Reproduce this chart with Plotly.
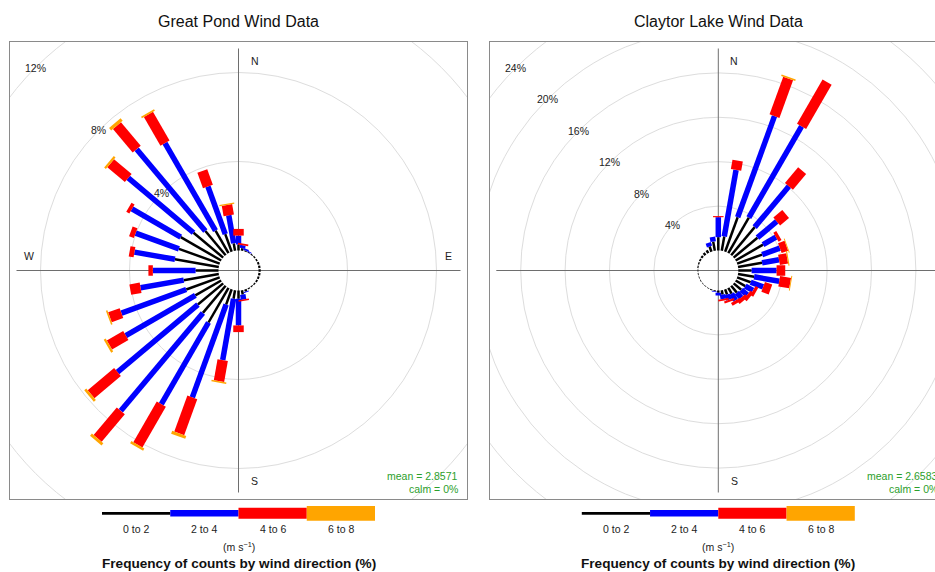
import numpy as np
import plotly.graph_objects as go

# ---------------- data ----------------
directions = list(range(10, 361, 10))
speed_bins = ["0 to 2", "2 to 4", "4 to 6", "6 to 8"]
bin_colors = ["#000000", "#0000FF", "#FF0000", "#FFA500"]

# Great Pond: frequency (%) per direction (10..360) for each speed bin
gp_0to2 = [0.12, 0.05, 0.04, 0.05, 0.06, 0.07, 0.09, 0.10, 0.10, 0.10, 0.09, 0.08,
           0.06, 0.05, 0.06, 0.10, 0.20, 0.37, 0.39, 0.73, 1.80, 1.59, 1.48, 1.34,
           1.60, 1.60, 1.03, 2.00, 1.95, 2.10, 1.74, 1.42, 1.17, 0.84, 0.34, 0.27]
gp_2to4 = [0.13, 0.08, 0.04, 0, 0, 0, 0, 0, 0, 0, 0, 0,
           0, 0, 0, 0.04, 0.22, 1.20, 2.80, 4.44, 4.24, 5.74, 4.72, 3.61,
           3.10, 1.97, 1.92, 1.85, 2.07, 2.53, 3.83, 4.80, 4.54, 2.28, 1.28, 0.40]
gp_4to6 = [0.08, 0.02, 0, 0, 0, 0, 0, 0, 0, 0, 0, 0,
           0, 0, 0, 0, 0.07, 0.30, 0.96, 1.72, 2.11, 1.62, 1.55, 0.85,
           0.55, 0.47, 0.20, 0.22, 0.23, 0.16, 1.03, 1.38, 1.49, 0.74, 0.47, 0.30]
gp_6to8 = [0, 0, 0, 0, 0, 0, 0, 0, 0, 0, 0, 0,
           0, 0, 0, 0, 0, 0, 0.07, 0.14, 0.11, 0.13, 0.12, 0.10,
           0.07, 0, 0, 0, 0, 0.03, 0.10, 0.15, 0.08, 0, 0.06, 0]

# Claytor Lake
cl_0to2 = [1.30, 3.30, 3.70, 3.30, 2.80, 2.85, 2.40, 2.20, 1.20, 1.47, 1.30, 1.00,
           0.90, 0.80, 0.60, 0.50, 0.40, 0.20, 0.10, 0.08, 0.06, 0.05, 0.05, 0.06,
           0.06, 0.07, 0.06, 0.10, 0.12, 0.15, 0.20, 0.25, 0.30, 0.50, 0.84, 1.20]
cl_2to4 = [6.10, 9.70, 9.50, 4.80, 2.27, 1.35, 1.70, 1.55, 2.25, 2.30, 1.20, 0.80,
           0.70, 0.60, 0.70, 0.50, 0.40, 0.25, 0.05, 0, 0, 0, 0, 0,
           0, 0, 0, 0, 0, 0, 0, 0, 0, 0.35, 0.42, 1.80]
cl_4to6 = [0.85, 3.60, 4.60, 1.85, 1.05, 0.30, 0.62, 0.75, 0.78, 1.00, 0.70, 0.30,
           0.33, 0.35, 0.30, 0.20, 0.15, 0, 0, 0, 0, 0, 0, 0,
           0, 0, 0, 0, 0, 0, 0, 0, 0, 0, 0, 0.10]
cl_6to8 = [0, 0.15, 0, 0, 0, 0.05, 0.08, 0.10, 0, 0.08, 0, 0,
           0, 0, 0, 0, 0, 0, 0, 0, 0, 0, 0, 0,
           0, 0, 0, 0, 0, 0, 0, 0, 0, 0, 0, 0]

gp_rings = [4, 8, 12]
cl_rings = [4, 8, 12, 16, 20, 24]
panel_titles = ["Great Pond Wind Data", "Claytor Lake Wind Data"]
panel_stats = [("mean = 2.8571", "calm = 0%"), ("mean = 2.6583", "calm = 0%")]
compass = [("N", 0), ("E", 90), ("S", 180), ("W", 270)]

# ---------------- layout geometry (pixels) ----------------
W, H = 935, 572
FONT = "Liberation Sans, Arial, Helvetica, sans-serif"
paddle_widths = [2.5, 5.5, 10.5, 15]
key_thick = [2.7, 6.5, 11, 14.7]

panels = [
    dict(bins=[gp_0to2, gp_2to4, gp_4to6, gp_6to8], rings=gp_rings,
         cx=238.5, ppu=22.25, left=10, right=467, xa="x", ya="y"),
    dict(bins=[cl_0to2, cl_2to4, cl_4to6, cl_6to8], rings=cl_rings,
         cx=718.3, ppu=11.1, left=490, right=935, xa="x2", ya="y2"),
]
box_top, box_bot, cy = 42, 499, 270.5
half_px = (box_bot - box_top) / 2
hole_px = 20

fig = go.Figure()
shapes, annotations = [], []


def txt(size, color="#222"):
    return dict(size=size, color=color, family=FONT)


for p_i, p in enumerate(panels):
    ppu = p["ppu"]
    hole = hole_px / ppu
    half = half_px / ppu
    xa, ya = p["xa"], p["ya"]

    # rings
    for v in p["rings"]:
        R = hole + v
        shapes.append(dict(type="circle", xref=xa, yref=ya, x0=-R, x1=R, y0=-R, y1=R,
                           line=dict(color="#dddddd", width=1), layer="below"))
        s = np.sqrt(0.5)
        annotations.append(dict(x=-R * s, y=R * s, xref=xa, yref=ya, text=f"{v}%",
                                showarrow=False, xanchor="center", yanchor="middle",
                                font=txt(10.5)))
    # cross-hair
    L = half - 6.5 / ppu
    shapes.append(dict(type="line", xref=xa, yref=ya, x0=-L, x1=L, y0=0, y1=0,
                       line=dict(color="#6e6e6e", width=1), layer="below"))
    shapes.append(dict(type="line", xref=xa, yref=ya, x0=0, x1=0, y0=-L, y1=L,
                       line=dict(color="#6e6e6e", width=1), layer="below"))

    # paddles
    cum = np.zeros(len(directions))
    for b_i, vals in enumerate(p["bins"]):
        xs, ys = [], []
        for d_i, d in enumerate(directions):
            v = vals[d_i]
            if v > 0:
                th = np.radians(d)
                r0 = hole + cum[d_i]
                r1 = hole + cum[d_i] + v
                xs += [r0 * np.sin(th), r1 * np.sin(th), None]
                ys += [r0 * np.cos(th), r1 * np.cos(th), None]
            cum[d_i] += v
        fig.add_trace(go.Scatter(x=xs, y=ys, mode="lines", xaxis=xa, yaxis=ya,
                                 line=dict(color=bin_colors[b_i], width=paddle_widths[b_i]),
                                 hoverinfo="skip", showlegend=False, connectgaps=False))

    # compass labels
    off = 18.5
    for lab, ang in compass:
        th = np.radians(ang)
        xsft = 16 if lab in "NS" else (-off if lab == "E" else off)
        ysft = -off if lab == "N" else (off if lab == "S" else 15)
        annotations.append(dict(x=half * np.sin(th), y=half * np.cos(th), xref=xa, yref=ya,
                                text=lab, showarrow=False, xshift=xsft, yshift=ysft,
                                xanchor="center", yanchor="middle", font=txt(10.5)))

    # stats (right aligned at box right edge)
    xmax = (p["right"] - p["cx"]) / ppu
    box_right_px = p["cx"] + half_px
    shift = (box_right_px - p["right"]) - 7
    for t_, ys_ in zip(panel_stats[p_i], [23, 10]):
        annotations.append(dict(x=xmax, y=-half, xref=xa, yref=ya, text=t_,
                                showarrow=False, xanchor="right", yanchor="middle",
                                xshift=shift, yshift=ys_, font=txt(10.5, "#2ca02c")))

    # axes
    xr = [(p["left"] - p["cx"]) / ppu, xmax]
    ax_common = dict(showgrid=False, zeroline=False, showticklabels=False, ticks="",
                     showline=True, linecolor="#8a8a8a", linewidth=1, fixedrange=True)
    fig.layout[("xaxis" if xa == "x" else "xaxis2")] = dict(
        domain=[p["left"] / W, p["right"] / W], range=xr, anchor=ya, mirror=True, **ax_common)
    fig.layout[("yaxis" if ya == "y" else "yaxis2")] = dict(
        domain=[(H - box_bot) / H, (H - box_top) / H], range=[-half, half], anchor=xa,
        mirror=(p_i == 0), **ax_common)

    # title
    annotations.append(dict(x=p["cx"] / W, y=1 - 22 / H, xref="paper", yref="paper",
                            text=panel_titles[p_i], showarrow=False,
                            xanchor="center", yanchor="middle", font=txt(16, "#111")))

    # colour key
    seg = 68.25
    k0 = p["cx"] - 2 * seg
    ky = 513.3
    for b_i, lab in enumerate(speed_bins):
        xa0 = k0 + b_i * seg
        t = key_thick[b_i]
        shapes.append(dict(type="rect", xref="paper", yref="paper",
                           x0=xa0 / W, x1=(xa0 + seg) / W,
                           y0=1 - (ky + t / 2) / H, y1=1 - (ky - t / 2) / H,
                           fillcolor=bin_colors[b_i], line=dict(width=0)))
        annotations.append(dict(x=(xa0 + seg / 2) / W, y=1 - 529 / H, xref="paper", yref="paper",
                                text=lab, showarrow=False, xanchor="center", yanchor="middle",
                                font=txt(10.5)))
    annotations.append(dict(x=p["cx"] / W, y=1 - 546 / H, xref="paper", yref="paper",
                            text="(m s<sup>\u22121</sup>)", showarrow=False,
                            xanchor="center", yanchor="middle", font=txt(10.5)))
    annotations.append(dict(x=p["cx"] / W, y=1 - 563 / H, xref="paper", yref="paper",
                            text="<b>Frequency of counts by wind direction (%)</b>", showarrow=False,
                            xanchor="center", yanchor="middle", font=txt(13.6, "#111")))

fig.update_layout(width=W, height=H, margin=dict(l=0, r=0, t=0, b=0),
                  paper_bgcolor="white", plot_bgcolor="white",
                  shapes=shapes, annotations=annotations, showlegend=False)

fig.write_html("out.html", config={"displayModeBar": False},
               post_script="document.body.style.margin='0px';")
